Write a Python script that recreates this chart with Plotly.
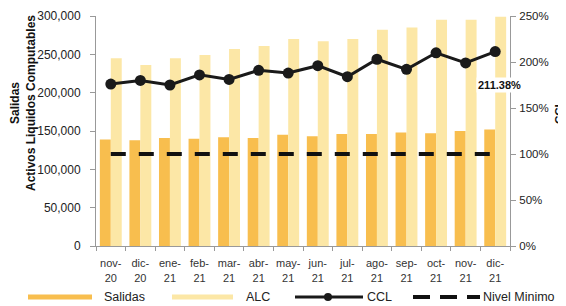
import plotly.graph_objects as go

categories = ["nov-<br>20", "dic-<br>20", "ene-<br>21", "feb-<br>21", "mar-<br>21", "abr-<br>21",
              "may-<br>21", "jun-<br>21", "jul-<br>21", "ago-<br>21", "sep-<br>21", "oct-<br>21",
              "nov-<br>21", "dic-<br>21"]
salidas = [139000, 138000, 141000, 140000, 142000, 141000, 145000, 143000, 146000, 146000,
           148000, 147000, 150000, 152000]
alc = [245000, 236000, 245000, 249000, 257000, 261000, 270000, 267000, 270000, 282000,
       285000, 295000, 295000, 299000]
ccl = [1.76, 1.80, 1.75, 1.86, 1.81, 1.91, 1.88, 1.96, 1.84, 2.03, 1.92, 2.10, 1.99, 2.1138]
nivel_minimo = [1.0] * 14
y_ticks = [0, 50000, 100000, 150000, 200000, 250000, 300000]
y2_ticks = [0, 0.5, 1.0, 1.5, 2.0, 2.5]

ORANGE = "#F8BE4E"
YELLOW = "#FCE7A6"
FONT = "Liberation Sans, Arial, sans-serif"

# page offset (body margin) compensation
OFF = 8
PAGE_W, PAGE_H = 566, 306
L, R, T, B = 96, 510, 16, 246   # plot area in page pixels
W, H = R - L, B - T

def px(x):
    return (x - L) / float(W)

def py(y):
    return (B - y) / float(H)

fig = go.Figure()
fig.add_trace(go.Bar(x=categories, y=salidas, name="Salidas", marker_color=ORANGE,
                     marker_line_width=0, showlegend=False))
fig.add_trace(go.Bar(x=categories, y=alc, name="ALC", marker_color=YELLOW,
                     marker_line_width=0, showlegend=False))
fig.add_trace(go.Scatter(x=categories, y=nivel_minimo, yaxis="y2", mode="lines",
                         line=dict(color="#111111", width=4, dash="15px,13px"),
                         showlegend=False))
fig.add_trace(go.Scatter(x=categories, y=ccl, yaxis="y2", mode="lines+markers",
                         line=dict(color="#1a1a1a", width=3),
                         marker=dict(size=11, color="#1a1a1a"), showlegend=False))

fig.add_annotation(x=categories[-1], y=ccl[-1], yref="y2", text="<b>211.38%</b>",
                   showarrow=False, xshift=4, yshift=-33, bgcolor="white",
                   font=dict(size=11, color="#111", family=FONT))

# axis titles
fig.add_annotation(xref="paper", yref="paper", x=px(23), y=py(103),
                   text="<b>Salidas<br>Activos Liquidos Computables</b>", textangle=-90,
                   showarrow=False, xanchor="center", yanchor="middle",
                   font=dict(size=12, color="#111", family=FONT))
fig.add_annotation(xref="paper", yref="paper", x=px(559), y=py(112),
                   text="<b>CCL</b>", textangle=-90,
                   showarrow=False, xanchor="center", yanchor="middle",
                   font=dict(size=11.5, color="#111", family=FONT))

# manual legend
ly = py(297)
shapes = [
    dict(type="line", xref="paper", yref="paper", x0=px(28), x1=px(92), y0=ly, y1=ly,
         line=dict(color=ORANGE, width=5)),
    dict(type="line", xref="paper", yref="paper", x0=px(172), x1=px(233), y0=ly, y1=ly,
         line=dict(color=YELLOW, width=5)),
    dict(type="line", xref="paper", yref="paper", x0=px(295), x1=px(363), y0=ly, y1=ly,
         line=dict(color="#1a1a1a", width=3)),
    dict(type="circle", xref="paper", yref="paper", x0=px(324), x1=px(332),
         y0=ly - 4 / float(H), y1=ly + 4 / float(H), fillcolor="#1a1a1a", line=dict(width=0)),
]
for a, b in [(413, 430), (440, 457), (467, 480)]:
    shapes.append(dict(type="line", xref="paper", yref="paper", x0=px(a), x1=px(b), y0=ly, y1=ly,
                       line=dict(color="#111", width=4)))
fig.update_layout(shapes=shapes)
for txt, x in [("Salidas", 104), ("ALC", 246), ("CCL", 367), ("Nivel Minimo", 483)]:
    fig.add_annotation(xref="paper", yref="paper", x=px(x), y=ly, text=txt, showarrow=False,
                       xanchor="left", yanchor="middle", xshift=-2,
                       font=dict(size=12.5, color="#222", family=FONT))

fig.update_layout(
    width=PAGE_W - OFF, height=PAGE_H - OFF,
    margin=dict(l=L - OFF, r=PAGE_W - R, t=T - OFF, b=PAGE_H - B, autoexpand=False),
    paper_bgcolor="white", plot_bgcolor="white",
    barmode="group", bargap=0.26, bargroupgap=0,
    font=dict(family=FONT, size=11, color="#222"),
    showlegend=False,
    xaxis=dict(range=[-0.5, len(categories) - 0.5], showline=True, linecolor="#999",
               linewidth=1, ticks="outside",
               tickson="boundaries", ticklen=4, tickcolor="#999", tickangle=0,
               automargin=False, ticklabelstandoff=7, tickfont=dict(size=11, color="#333")),
    yaxis=dict(range=[0, 300000], tickvals=y_ticks, tickformat=",", showgrid=False,
               showline=True, linecolor="#999", ticks="outside", ticklen=5, tickcolor="#999",
               zeroline=False, automargin=False, ticklabelstandoff=7,
               tickfont=dict(size=12, color="#222")),
    yaxis2=dict(range=[0, 2.5], tickvals=y2_ticks, tickformat=".0%", overlaying="y",
                side="right", showgrid=False, showline=True, linecolor="#999",
                ticks="outside", ticklen=5, tickcolor="#999", zeroline=False,
                automargin=False, ticklabelstandoff=1,
                tickfont=dict(size=11.5, color="#222")),
)

fig.write_html("out.html")
